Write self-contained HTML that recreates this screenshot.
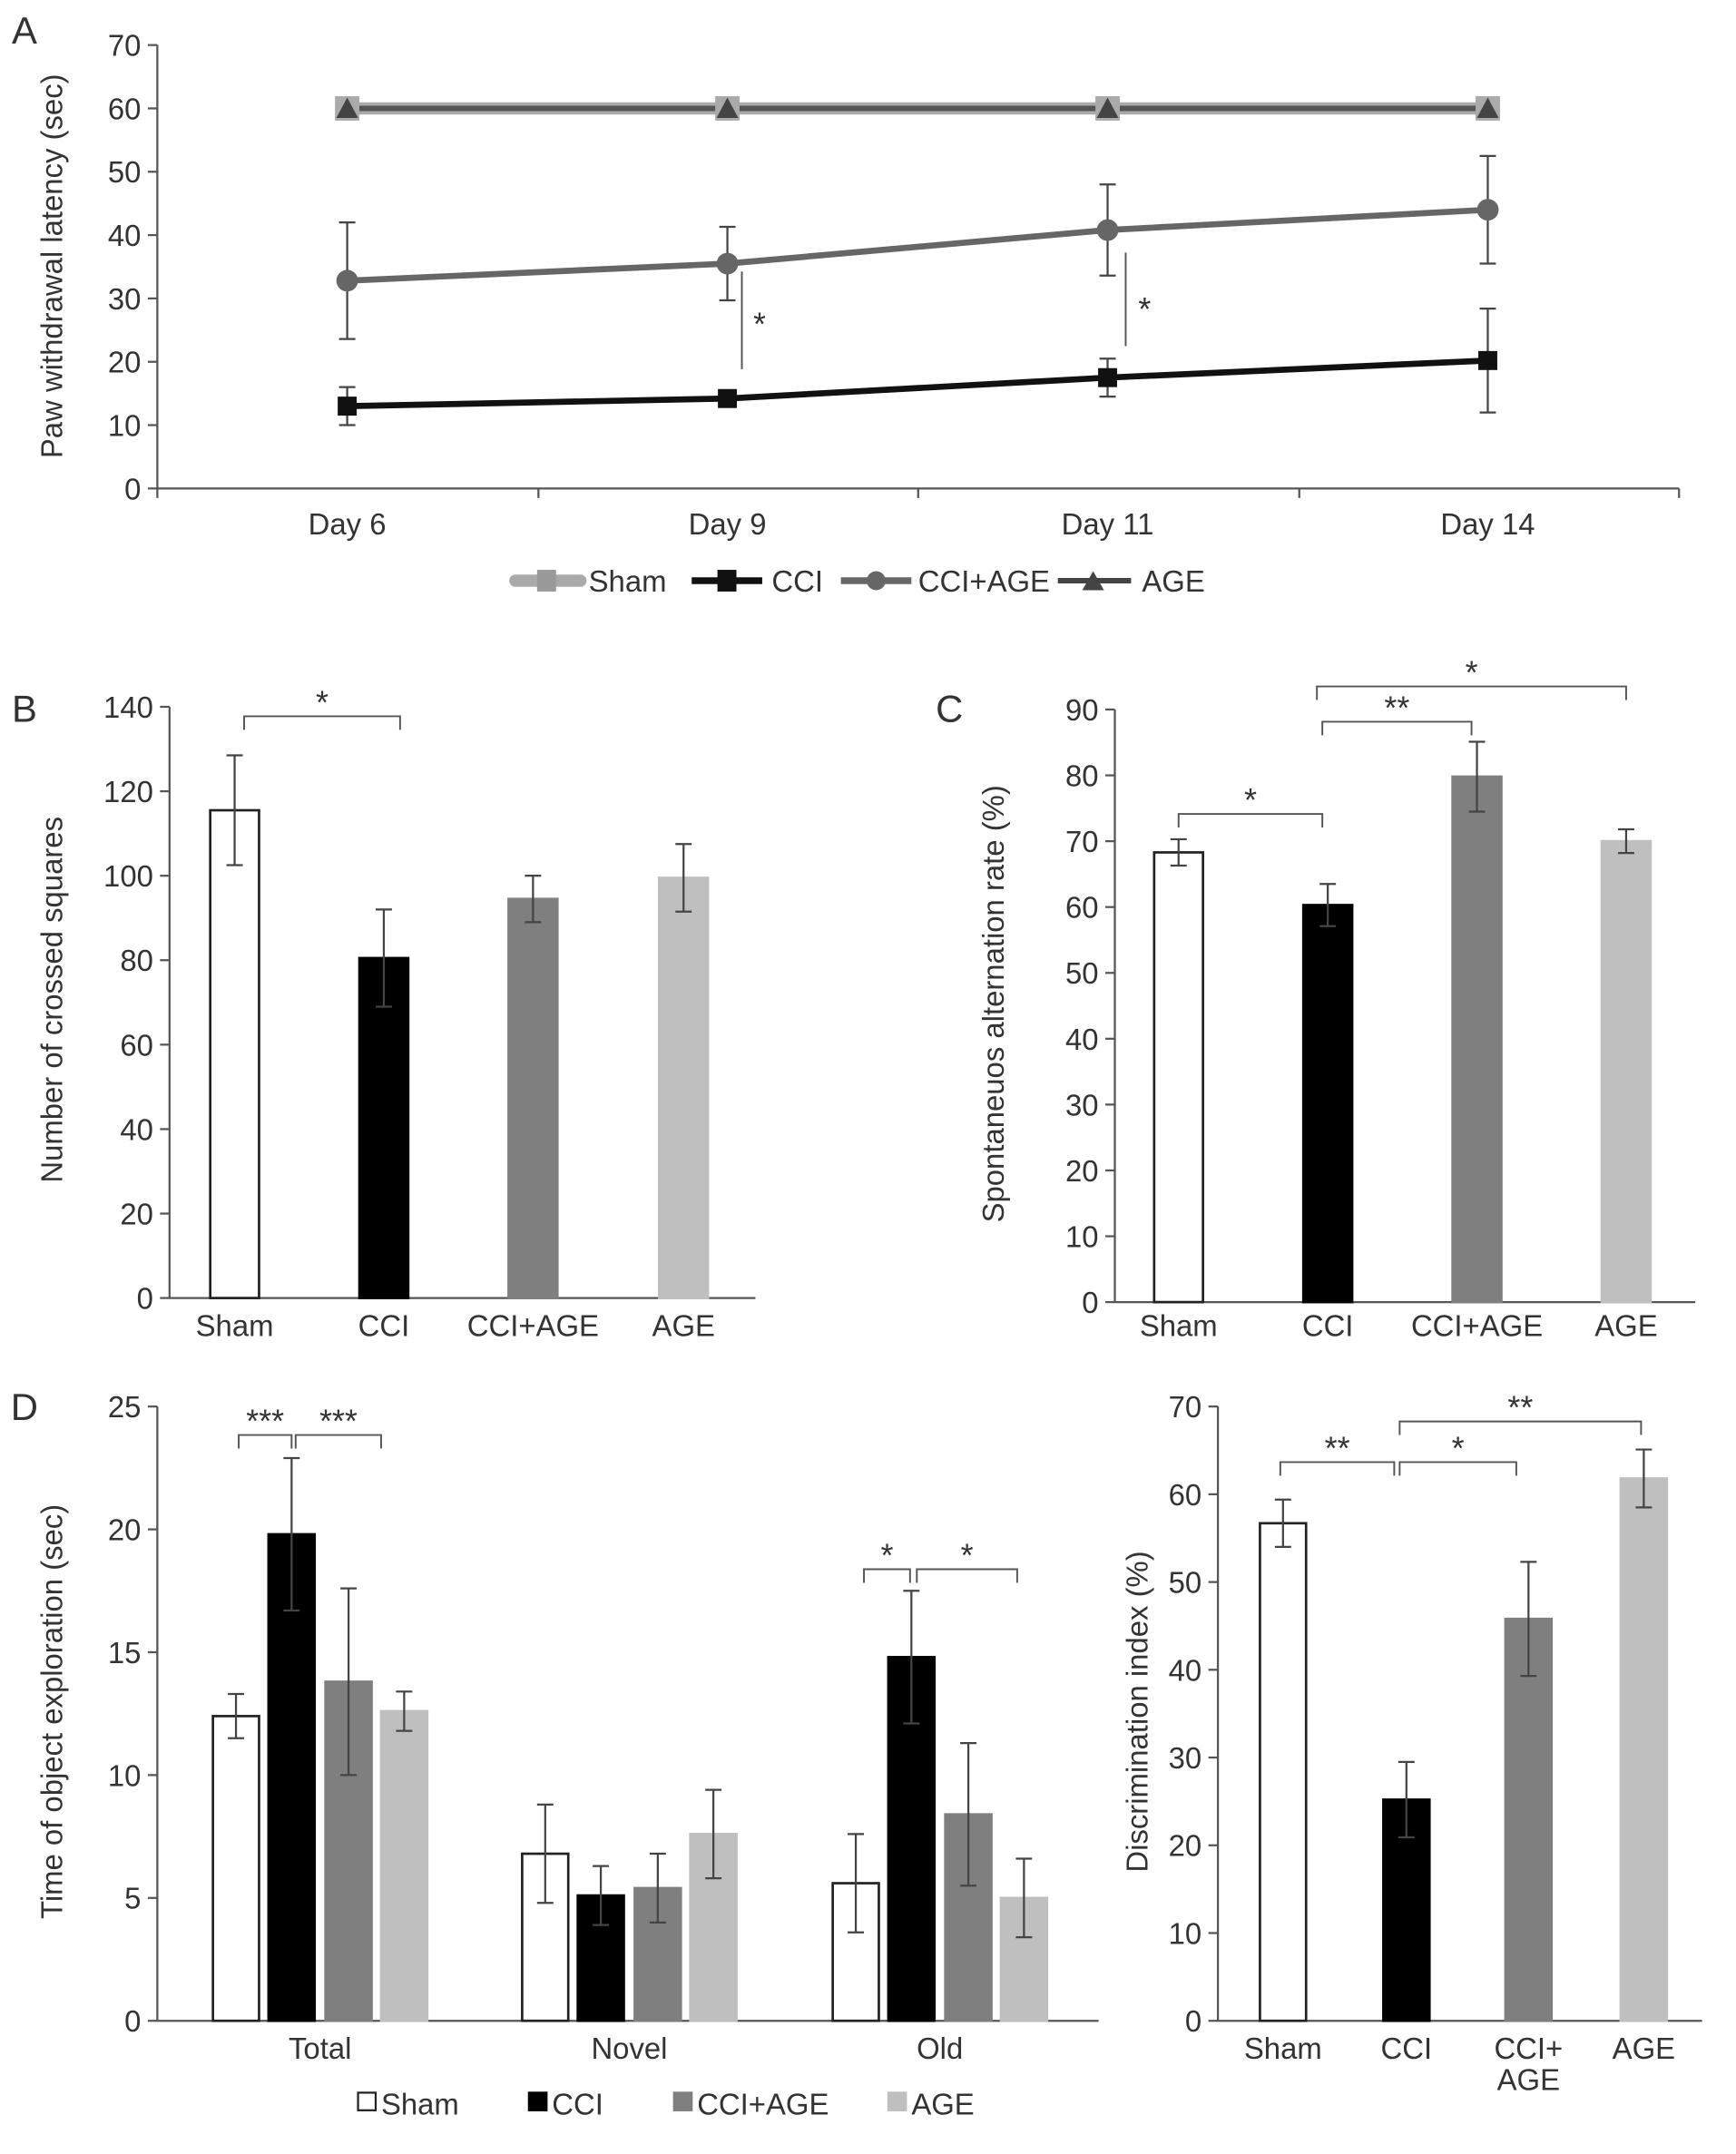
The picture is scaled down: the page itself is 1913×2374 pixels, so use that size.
<!DOCTYPE html>
<html><head><meta charset="utf-8"><style>
html,body{margin:0;padding:0;background:#fff}
svg{display:block}
text{font-family:"Liberation Sans",Arial,sans-serif;fill:#333}
</style></head><body>
<svg id="fig" width="1913" height="2374" viewBox="0 0 1280 1588" xmlns="http://www.w3.org/2000/svg"></svg>
<script>
// Panel A data
const daysA = ["Day 6","Day 9","Day 11","Day 14"];
const shamA = [60,60,60,60];
const ageA = [60,60,60,60];
const cciA = [13,14.2,17.5,20.2];
const cciErrA = [3,1,3,8.2];
const cciAgeA = [32.8,35.5,40.8,44];
const cciAgeErrA = [9.2,5.8,7.2,8.5];
const ticksA = [0,10,20,30,40,50,60,70];
// Panel B
const groups = ["Sham","CCI","CCI+AGE","AGE"];
const valsB = [115.5,80.5,94.5,99.5];
const errB = [13,11.5,5.5,8];
const ticksB = [0,20,40,60,80,100,120,140];
// Panel C
const valsC = [68.3,60.3,79.8,70];
const errC = [2,3.2,5.3,1.8];
const ticksC = [0,10,20,30,40,50,60,70,80,90];
// Panel D left
const catsD = ["Total","Novel","Old"];
const shamD = [12.4,6.8,5.6];
const shamErrD = [0.9,2,2];
const cciD = [19.8,5.1,14.8];
const cciErrD = [3.1,1.2,2.7];
const cciAgeD = [13.8,5.4,8.4];
const cciAgeErrD = [3.8,1.4,2.9];
const ageD = [12.6,7.6,5];
const ageErrD = [0.8,1.8,1.6];
const ticksD = [0,5,10,15,20,25];
// Panel D right
const valsE = [56.7,25.2,45.8,61.8];
const errE = [2.7,4.3,6.5,3.3];
const ticksE = [0,10,20,30,40,50,60,70];

const FS=22;
const NS="http://www.w3.org/2000/svg";
const svg=document.getElementById('fig');
function mk(tag,attrs,name,parent){
  const e=document.createElementNS(NS,tag);
  for(const k in attrs)e.setAttribute(k,attrs[k]);
  
  
  (parent||svg).appendChild(e);return e;
}
function txt(x,y,s,name,size,anchor,extra){
  const t=mk('text',Object.assign({x:x,y:y,'font-size':size||FS,'text-anchor':anchor||'middle'},extra||{}),name);
  t.textContent=s;return t;
}
function line(x1,y1,x2,y2,name,stroke,w){return mk('line',{x1,y1,x2,y2,stroke:stroke||'#555','stroke-width':w||1.5},name);}
function yAxis(x,y0,y1,ticks,max,name){
  line(x,y0,x,y1,name+'-y-axis');
  ticks.forEach(v=>{const y=y0-(y0-y1)*v/max;line(x-7,y,x,y,name+'-y-tick');txt(x-12,y+8,String(v),name+'-y-tick-label',FS,'end');});
}
function errBar(x,ylo,yhi,name){line(x,ylo,x,yhi,name,'#444',1.5);line(x-6,ylo,x+6,ylo,name,'#444',1.5);line(x-6,yhi,x+6,yhi,name,'#444',1.5);}
function bracket(x1,x2,y,label,name){
  mk('path',{d:`M${x1},${y+10}V${y}H${x2}V${y+10}`,fill:'none',stroke:'#555','stroke-width':1.3},name);
  txt((x1+x2)/2,y-2,label,name+'-label',24);
}

// ===== Panel A =====
txt(18,32,'A','panel-a-label',28);
const aX0=116,aY0=360,aY1=33,aMax=70;
const ay=v=>aY0-(aY0-aY1)*v/aMax;
const ax=i=>256+i*280.33;
yAxis(aX0,aY0,aY1,ticksA,aMax,'panel-a');
line(aX0,aY0,1238,aY0,'panel-a-x-axis');
[116,397,677,958,1238].forEach(x=>line(x,aY0,x,aY0+7,'panel-a-x-tick'));
daysA.forEach((d,i)=>txt(ax(i),394,d,'panel-a-x-label'));
txt(46,196,'Paw withdrawal latency (sec)','panel-a-y-title',FS,'middle',{transform:'rotate(-90 46 196)'});
function series(vals,color,w,name){
  mk('polyline',{points:vals.map((v,i)=>ax(i)+','+ay(v)).join(' '),fill:'none',stroke:color,'stroke-width':w},name+'-line');
}
series(shamA,'#aaa',9,'sham');
series(ageA,'#555',4,'age');
series(cciAgeA,'#666',4.5,'cci-age');
series(cciA,'#111',4.5,'cci');
cciAgeA.forEach((v,i)=>{errBar(ax(i),ay(v-cciAgeErrA[i]),ay(v+cciAgeErrA[i]),'cci-age-error');mk('circle',{cx:ax(i),cy:ay(v),r:8,fill:'#666'},'cci-age-point');});
cciA.forEach((v,i)=>{errBar(ax(i),ay(v-cciErrA[i]),ay(v+cciErrA[i]),'cci-error');mk('rect',{x:ax(i)-7,y:ay(v)-7,width:14,height:14,fill:'#111'},'cci-point');});
shamA.forEach((v,i)=>{mk('rect',{x:ax(i)-9,y:ay(v)-9,width:18,height:18,fill:'#aaa'},'sham-point');});
ageA.forEach((v,i)=>{mk('polygon',{points:`${ax(i)-8},${ay(v)+7} ${ax(i)+8},${ay(v)+7} ${ax(i)},${ay(v)-8}`,fill:'#444'},'age-point');});
line(547,200,547,272,'sig-day9','#555',1.3);txt(560,247,'*','sig-day9-label',24);
line(830,186,830,255,'sig-day11','#555',1.3);txt(844,236,'*','sig-day11-label',24);
// legend A
mk('line',{x1:380,y1:428,x2:428,y2:428,stroke:'#aaa','stroke-width':9,'stroke-linecap':'round'},'legend-sham-line');
mk('rect',{x:396,y:420,width:14,height:16,fill:'#999'},'legend-sham-marker');
txt(434,436,'Sham','legend-sham',FS,'start');
mk('line',{x1:510,y1:428,x2:562,y2:428,stroke:'#111','stroke-width':5},'legend-cci-line');
mk('rect',{x:529,y:420,width:14,height:16,fill:'#111'},'legend-cci-marker');
txt(569,436,'CCI','legend-cci',FS,'start');
mk('line',{x1:620,y1:428,x2:672,y2:428,stroke:'#666','stroke-width':5},'legend-cci-age-line');
mk('circle',{cx:646,cy:428,r:7,fill:'#666'},'legend-cci-age-marker');
txt(677,436,'CCI+AGE','legend-cci-age',FS,'start');
mk('line',{x1:780,y1:428,x2:834,y2:428,stroke:'#444','stroke-width':4},'legend-age-line');
mk('polygon',{points:'798,435 814,435 806,421',fill:'#444'},'legend-age-marker');
txt(842,436,'AGE','legend-age',FS,'start');

const fills=['#fff','#000','#7f7f7f','#bfbfbf'];
const names=['sham','cci','cci-age','age'];
function bars(vals,errs,xs,w,y0,y1,max,panel){
  vals.forEach((v,i)=>{
    const y=y0-(y0-y1)*v/max;
    mk('rect',{x:xs[i]-w/2,y:y,width:w,height:y0-y,fill:fills[i],stroke:i===0?'#222':fills[i],'stroke-width':1.8},panel+'-bar-'+names[i]);
    errBar(xs[i],y0-(y0-y1)*(v-errs[i])/max,y0-(y0-y1)*(v+errs[i])/max,panel+'-error-'+names[i]);
  });
}
// ===== Panel B =====
txt(18,532,'B','panel-b-label',28);
const bxs=[173,283,393,504];
yAxis(125,957,521,ticksB,140,'panel-b');
line(125,957,557,957,'panel-b-x-axis');
bars(valsB,errB,bxs,36,957,521,140,'panel-b');
groups.forEach((g,i)=>txt(bxs[i],985,g,'panel-b-x-label'));
txt(46,737,'Number of crossed squares','panel-b-y-title',FS,'middle',{transform:'rotate(-90 46 737)'});
bracket(180,295,528,'*','panel-b-sig');

// ===== Panel C =====
txt(700,532,'C','panel-c-label',28);
const cxs=[869,979,1089,1199];
yAxis(822,960,523,ticksC,90,'panel-c');
line(822,960,1250,960,'panel-c-x-axis');
bars(valsC,errC,cxs,36,960,523,90,'panel-c');
groups.forEach((g,i)=>txt(cxs[i],985,g,'panel-c-x-label'));
txt(740,740,'Spontaneuos alternation rate (%)','panel-c-y-title',FS,'middle',{transform:'rotate(-90 740 740)'});
bracket(869,975,600,'*','panel-c-sig-sham-cci');
bracket(975,1085,532,'**','panel-c-sig-cci-cciage');
bracket(971,1199,506,'*','panel-c-sig-cci-age');

// ===== Panel D left =====
txt(18,1047,'D','panel-d-label',28);
const dY0=1490,dY1=1037,dMax=25;
yAxis(116,dY0,dY1,ticksD,dMax,'panel-d');
line(116,dY0,810,dY0,'panel-d-x-axis');
const gx=[236,464,693];
const offs=[-62,-21,21,62];
const dSeries=[shamD,cciD,cciAgeD,ageD],dErr=[shamErrD,cciErrD,cciAgeErrD,ageErrD];
catsD.forEach((c,gi)=>{
  bars(dSeries.map(s=>s[gi]),dErr.map(s=>s[gi]),offs.map(o=>gx[gi]+o),34,dY0,dY1,dMax,'panel-d-'+c.toLowerCase());
  txt(gx[gi],1518,c,'panel-d-x-label');
});
txt(46,1262,'Time of object exploration (sec)','panel-d-y-title',FS,'middle',{transform:'rotate(-90 46 1262)'});
bracket(176,215,1058,'***','panel-d-sig-total-1');
bracket(218,281,1058,'***','panel-d-sig-total-2');
bracket(637,671,1157,'*','panel-d-sig-old-1');
bracket(676,750,1157,'*','panel-d-sig-old-2');
// legend D
const lx=[264,390,497,655],ll=['Sham','CCI','CCI+AGE','AGE'];
ll.forEach((l,i)=>{mk('rect',{x:lx[i],y:1543,width:13,height:13,fill:fills[i],stroke:i===0?'#222':fills[i],'stroke-width':1.5},'legend-d-'+names[i]+'-swatch');txt(lx[i]+17,1559,l,'legend-d-'+names[i],FS,'start');});

// ===== Panel D right =====
const exs=[946,1037,1127,1212];
yAxis(898,1490,1037,ticksE,70,'panel-e');
line(898,1490,1255,1490,'panel-e-x-axis');
bars(valsE,errE,exs,34,1490,1037,70,'panel-e');
txt(exs[0],1518,'Sham','panel-e-x-label');txt(exs[1],1518,'CCI','panel-e-x-label');
txt(exs[2],1518,'CCI+','panel-e-x-label');txt(exs[2],1541,'AGE','panel-e-x-label');
txt(exs[3],1518,'AGE','panel-e-x-label');
txt(846,1262,'Discrimination index (%)','panel-e-y-title',FS,'middle',{transform:'rotate(-90 846 1262)'});
bracket(944,1028,1078,'**','panel-e-sig-sham-cci');
bracket(1032,1118,1078,'*','panel-e-sig-cci-cciage');
bracket(1032,1210,1048,'**','panel-e-sig-cci-age');
</script>
</body></html>
